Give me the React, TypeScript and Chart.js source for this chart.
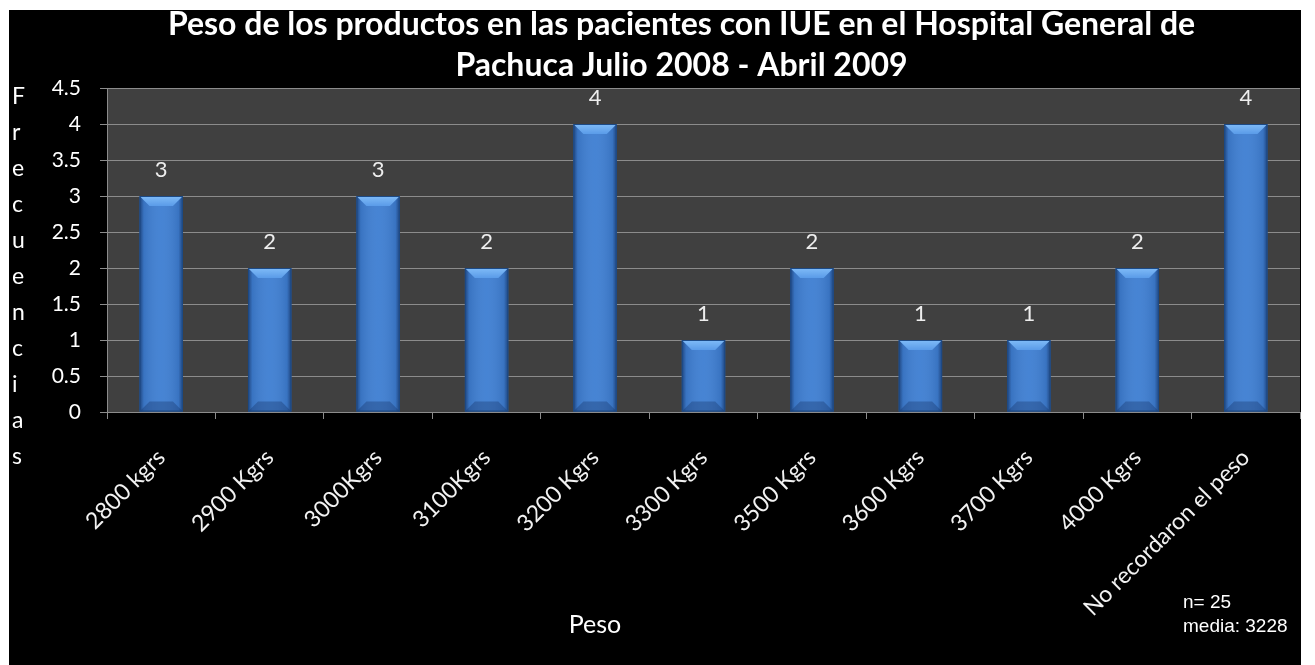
import React, { useEffect, useRef } from "react";
import { Chart, registerables } from "chart.js";

Chart.register(...registerables);

const categories = [
  "2800 kgrs",
  "2900 Kgrs",
  "3000Kgrs",
  "3100Kgrs",
  "3200 Kgrs",
  "3300 Kgrs",
  "3500 Kgrs",
  "3600 Kgrs",
  "3700 Kgrs",
  "4000 Kgrs",
  "No recordaron el peso",
];
const frecuencias = [3, 2, 3, 2, 4, 1, 2, 1, 1, 2, 4];
const titleLines = [
  "Peso de los productos en las pacientes con IUE en el Hospital General de",
  "Pachuca Julio 2008 - Abril 2009",
];
const yAxisTitle = "Frecuencias";
const xAxisTitle = "Peso";
const noteLines = ["n= 25", "media: 3228"];

const W = 1292;
const H = 655;

const plotBg = {
  id: "plotBg",
  beforeDraw(chart: any) {
    const { ctx, chartArea } = chart;
    ctx.save();
    ctx.fillStyle = "#404040";
    ctx.fillRect(chartArea.left, chartArea.top, chartArea.right - chartArea.left, chartArea.bottom - chartArea.top);
    ctx.restore();
  },
};

const bevel = {
  id: "bevel",
  afterDatasetsDraw(chart: any) {
    const { ctx } = chart;
    const meta = chart.getDatasetMeta(0);
    ctx.save();
    meta.data.forEach((el: any, i: number) => {
      const p = el.getProps(["x", "y", "base", "width"], true);
      const l = p.x - p.width / 2;
      const r = p.x + p.width / 2;
      const t = p.y;
      const b = p.base;
      const bv = 10;
      const g = ctx.createLinearGradient(l, 0, r, 0);
      g.addColorStop(0, "rgba(10,30,70,0.6)");
      g.addColorStop(0.1, "rgba(10,30,70,0.12)");
      g.addColorStop(0.5, "rgba(255,255,255,0.04)");
      g.addColorStop(0.9, "rgba(10,30,70,0.12)");
      g.addColorStop(1, "rgba(10,30,70,0.6)");
      ctx.fillStyle = g;
      ctx.fillRect(l, t, r - l, b - t);
      const tg = ctx.createLinearGradient(0, t, 0, t + bv);
      tg.addColorStop(0, "#80bcf8");
      tg.addColorStop(1, "#5a9be8");
      ctx.fillStyle = tg;
      ctx.beginPath();
      ctx.moveTo(l, t);
      ctx.lineTo(r, t);
      ctx.lineTo(r - bv, t + bv);
      ctx.lineTo(l + bv, t + bv);
      ctx.closePath();
      ctx.fill();
      ctx.fillStyle = "rgba(20,50,100,0.35)";
      ctx.beginPath();
      ctx.moveTo(l, b);
      ctx.lineTo(r, b);
      ctx.lineTo(r - bv, b - bv);
      ctx.lineTo(l + bv, b - bv);
      ctx.closePath();
      ctx.fill();
      ctx.strokeStyle = "#1d4a85";
      ctx.lineWidth = 1;
      ctx.strokeRect(l + 0.5, t + 0.5, r - l - 1, b - t - 1);
      ctx.fillStyle = "#eeeeee";
      ctx.font = "22px Lato";
      ctx.textAlign = "center";
      ctx.textBaseline = "middle";
      ctx.fillText(String(frecuencias[i]), p.x, t - 26);
    });
    ctx.restore();
  },
};

const texts = {
  id: "texts",
  afterDraw(chart: any) {
    const { ctx } = chart;
    ctx.save();
    ctx.fillStyle = "#ffffff";
    ctx.textAlign = "center";
    ctx.textBaseline = "alphabetic";
    ctx.font = "bold 32px Lato";
    ctx.fillText(titleLines[0], 672.5, 25);
    ctx.fillText(titleLines[1], 672.5, 66);

    ctx.textAlign = "left";
    ctx.textBaseline = "middle";
    ctx.font = "23px Lato";
    yAxisTitle.split("").forEach((ch, i) => {
      ctx.fillText(ch, 3, 87 + 36 * i);
    });

    ctx.textAlign = "center";
    ctx.font = "25px Lato";
    ctx.fillText(xAxisTitle, 586, 615);

    ctx.textAlign = "left";
    ctx.font = "19px 'Liberation Sans'";
    ctx.fillText(noteLines[0], 1174, 593);
    ctx.fillText(noteLines[1], 1174, 617);
    ctx.restore();
  },
};

export default function App() {
  const ref = useRef<HTMLCanvasElement | null>(null);
  useEffect(() => {
    if (!ref.current) return;
    const chart = new Chart(ref.current, {
      type: "bar",
      data: {
        labels: categories,
        datasets: [
          {
            data: frecuencias,
            backgroundColor: "#3f7fd2",
            borderWidth: 0,
            barPercentage: 0.4,
            categoryPercentage: 1,
          },
        ],
      },
      options: {
        animation: false,
        responsive: false,
        layout: { padding: { top: 78, right: 1, left: 0, bottom: 0 } },
        plugins: {
          legend: { display: false },
          title: { display: false },
          tooltip: { enabled: false },
        },
        scales: {
          x: {
            grid: {
              display: true,
              drawOnChartArea: false,
              drawTicks: true,
              tickLength: 7,
              color: "#8c8c8c",
              offset: true,
            },
            border: { display: true, color: "#8c8c8c" },
            ticks: {
              color: "#f2f2f2",
              font: { family: "Lato", size: 23 },
              minRotation: 45,
              maxRotation: 45,
              autoSkip: false,
              padding: 25,
            },
            afterFit: (s: any) => {
              s.height = 253;
            },
          },
          y: {
            min: 0,
            max: 4.5,
            ticks: {
              stepSize: 0.5,
              color: "#ffffff",
              font: { family: "Lato", size: 21 },
              padding: 19,
              callback: (v: any) => String(Number(v)),
            },
            grid: { color: "#8c8c8c", tickLength: 7 },
            border: { display: true, color: "#8c8c8c" },
            afterFit: (s: any) => {
              s.width = 98;
            },
          },
        },
      },
      plugins: [plotBg, bevel, texts],
    });
    return () => chart.destroy();
  }, []);
  return (
    <div
      style={{
        position: "fixed",
        left: 9,
        top: 10,
        width: W,
        height: H,
        background: "#000",
      }}
    >
      <canvas ref={ref} width={W} height={H} style={{ display: "block" }} />
    </div>
  );
}
